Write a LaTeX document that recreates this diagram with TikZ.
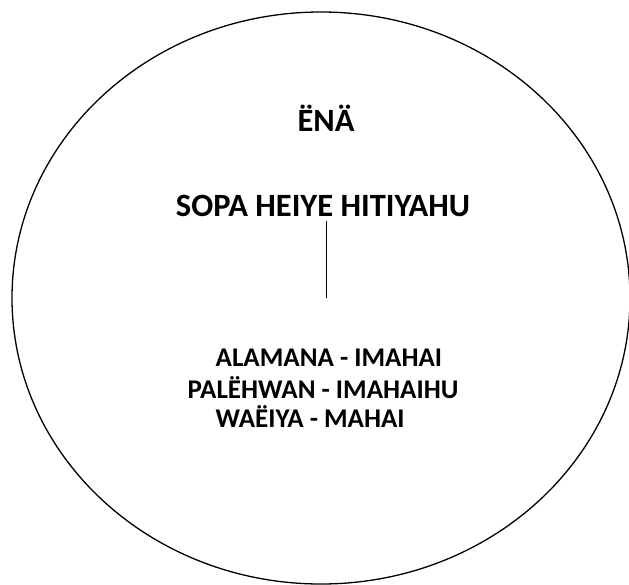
\documentclass[tikz,border=0pt]{standalone}
\usepackage{fontspec}
\setmainfont{Carlito}
\usetikzlibrary{positioning, shapes.geometric}

\begin{document}
\begin{tikzpicture}[x=1pt, y=-1pt, line width=1.3pt]
		\useasboundingbox (0,0) rectangle (629,584);
		\clip (0,0) rectangle (629,584);
		%diagram
		\node[draw, ellipse, minimum width=618pt, minimum height=572pt, inner sep=0pt] (oval) at (321,298) {};
		\node[font=\bfseries\fontsize{32.5}{38}\selectfont] (ena) at (326,118) {ËNÄ};
		\node[font=\bfseries\fontsize{32.5}{38}\selectfont] (sopa) at (323,206) {SOPA HEIYE HITIYAHU};
		\coordinate (stem) at (326,298);
		\draw[line width=1pt] (sopa.south -| stem) -- (stem);
		\node[font=\bfseries\fontsize{27}{32}\selectfont, anchor=west, inner sep=0pt] (alamana) at (215,358) {ALAMANA - IMAHAI};
		\node[font=\bfseries\fontsize{27}{32}\selectfont, anchor=west, inner sep=0pt] (palehwan) at (187,388) {PALËHWAN - IMAHAIHU};
		\node[font=\bfseries\fontsize{27}{32}\selectfont, anchor=west, inner sep=0pt] (waeiya) at (215,417) {WAËIYA - MAHAI};
\end{tikzpicture}
\end{document}
